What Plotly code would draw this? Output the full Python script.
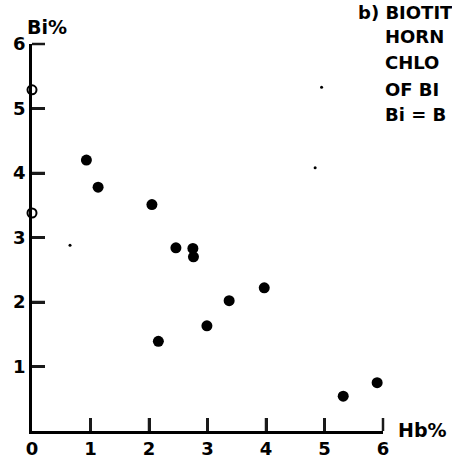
import plotly.graph_objects as go

# Filled points: hornblende % (x) vs biotite % (y)
hb = [0.93, 1.13, 2.05, 2.46, 2.75, 2.76, 2.16, 2.99, 3.37, 3.97, 5.32, 5.90]
bi = [4.20, 3.78, 3.51, 2.84, 2.83, 2.70, 1.39, 1.63, 2.02, 2.22, 0.54, 0.75]

# Open circles on the Bi axis (Hb = 0)
hb_open = [0, 0]
bi_open = [5.29, 3.38]

# Small scan specks
hb_speck = [0.65, 4.84, 4.95]
bi_speck = [2.88, 4.08, 5.33]

x_ticks = [0, 1, 2, 3, 4, 5, 6]
y_ticks = [1, 2, 3, 4, 5, 6]

# Visible (cropped) legend text of the reference
title_lines = ["b) BIOTIT", "HORN", "CHLO", "OF BI", "Bi = B"]

FONT = "DejaVu Sans"
TICKLEN = 13
LW = 2.5
XMAX, YMAX = 6, 6
TICKCOL = "#1a1a1a"

L, R, T, B = 32, 69, 44, 29
W, H = 452, 460
pw, ph = W - L - R, H - T - B

fig = go.Figure()

# Inward tick marks, drawn as line markers placed from the tick arrays
tick_size = TICKLEN / 1.4
xt = x_ticks[1:]
fig.add_trace(go.Scatter(x=xt, y=[TICKLEN / 2 * YMAX / ph] * len(xt), mode="markers",
                         marker=dict(symbol="line-ns-open", size=tick_size, color=TICKCOL,
                                     line=dict(color=TICKCOL, width=LW)),
                         cliponaxis=False, hoverinfo="skip"))
fig.add_trace(go.Scatter(x=[TICKLEN / 2 * XMAX / pw] * len(y_ticks), y=y_ticks, mode="markers",
                         marker=dict(symbol="line-ew-open", size=tick_size, color=TICKCOL,
                                     line=dict(color=TICKCOL, width=LW)),
                         cliponaxis=False, hoverinfo="skip"))

fig.add_trace(go.Scatter(x=hb_speck, y=bi_speck, mode="markers",
                         marker=dict(size=3, color="black"), cliponaxis=False, hoverinfo="skip"))
fig.add_trace(go.Scatter(x=hb, y=bi, mode="markers",
                         marker=dict(size=11, color="black"), cliponaxis=False))
fig.add_trace(go.Scatter(x=hb_open, y=bi_open, mode="markers",
                         marker=dict(size=9, color="white", line=dict(color="black", width=2)),
                         cliponaxis=False))

axis_common = dict(showgrid=False, zeroline=False, showline=True, linecolor="black", linewidth=LW,
                   ticks="inside", tickcolor=TICKCOL, tickwidth=LW, ticklen=TICKLEN,
                   automargin=False,
                   tickfont=dict(family=FONT, size=18, color="black"))

fig.update_xaxes(range=[0, XMAX], tickvals=x_ticks,
                 ticktext=["<b>%d</b>" % v for v in x_ticks], **axis_common)
fig.update_yaxes(range=[0, YMAX], tickvals=y_ticks,
                 ticktext=["<b>%d</b>" % v for v in y_ticks], **axis_common)


def px_x(px):
    return (px - L) / pw

def px_y(py):
    return (H - B - py) / ph

ann = []
ann.append(dict(text="<b>Bi%</b>", x=px_x(25), y=px_y(27), xref="paper", yref="paper",
                xanchor="left", yanchor="middle", showarrow=False,
                font=dict(family=FONT, size=19, color="black")))
ann.append(dict(text="<b>Hb%</b>", x=px_x(396), y=px_y(430), xref="paper", yref="paper",
                xanchor="left", yanchor="middle", showarrow=False,
                font=dict(family=FONT, size=19, color="black")))

line_y = [12.5, 37, 62.5, 89, 114.5]
for i, (t, yy) in enumerate(zip(title_lines, line_y)):
    xx = 356 if i == 0 else 383
    ann.append(dict(text="<b>%s</b>" % t, x=px_x(xx), y=px_y(yy), xref="paper", yref="paper",
                    xanchor="left", yanchor="middle", showarrow=False,
                    font=dict(family=FONT, size=18, color="black")))

fig.update_layout(width=W, height=H, margin=dict(l=L, r=R, t=T, b=B, autoexpand=False),
                  paper_bgcolor="white", plot_bgcolor="white", showlegend=False,
                  annotations=ann)

fig.write_html("out.html")
